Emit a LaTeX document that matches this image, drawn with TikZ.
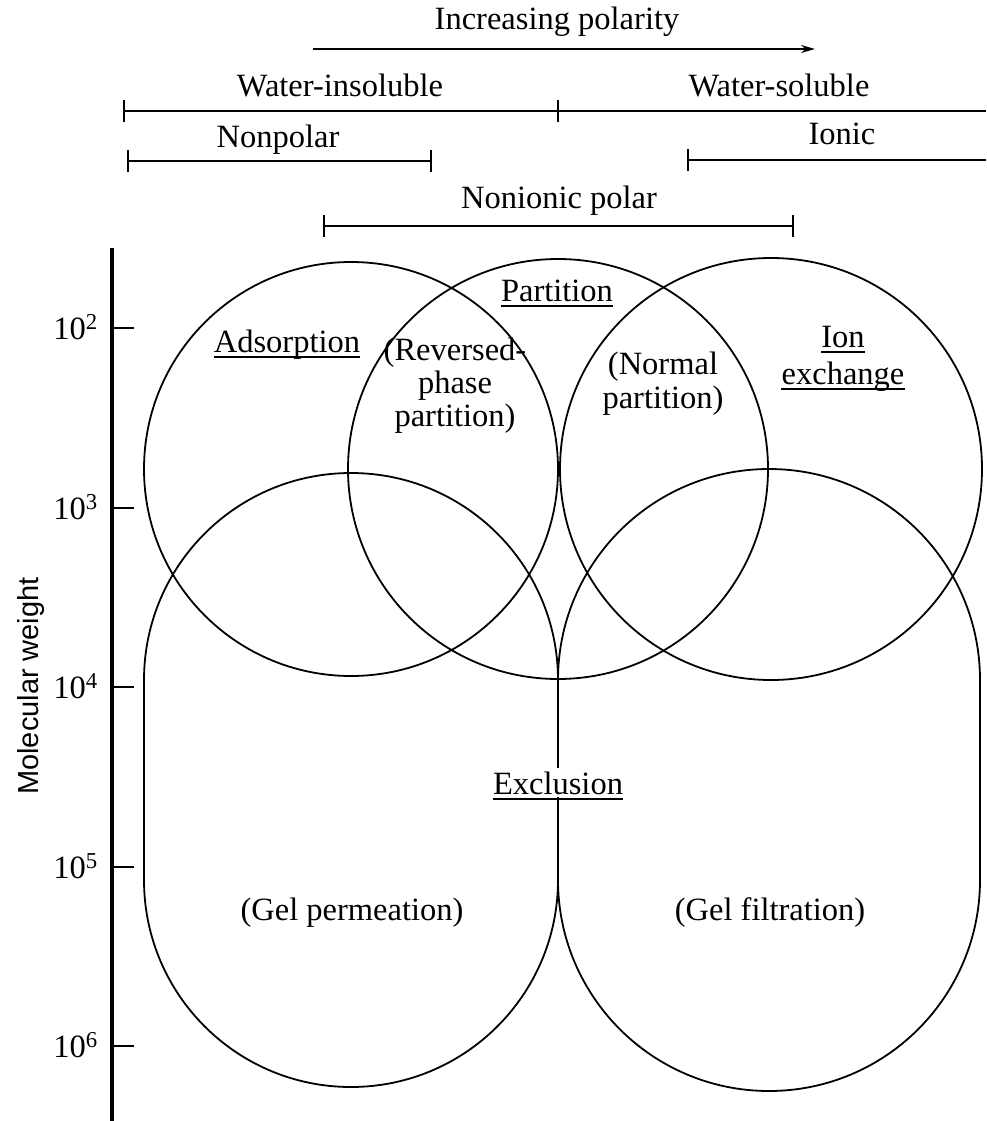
\documentclass[tikz,border=0pt]{standalone}
\usepackage{fontspec}
\setmainfont{Liberation Serif}
\setsansfont{Liberation Sans}
\usetikzlibrary{arrows.meta}
\begin{document}
\begin{tikzpicture}[x=1pt,y=-1pt,
  lab/.style={inner sep=0pt, anchor=base, font=\fontsize{32.5}{38}\selectfont},
  thinline/.style={line width=1.8pt},
  brline/.style={line width=1.9pt},
  ulline/.style={line width=1.5pt},
  disc/.style={circle, draw, thinline, inner sep=0pt},
]
\useasboundingbox (0,0) rectangle (986,1121);

% ---- top annotations ----
\node[lab] (inc) at (557,30) {Increasing polarity};
\coordinate (incA) at (313,49);
\coordinate (incB) at (815,49);
\draw[brline,-{Stealth[length=14pt,width=8pt]}] (incA) -- (incB);

\node[lab] (winsol) at (340,97) {Water-insoluble};
\node[lab] (wsol) at (779,97) {Water-soluble};
\coordinate (wA) at (124,111);
\coordinate (wM) at (558,111);
\coordinate (wB) at (986,111);
\draw[brline] (wA) -- (wB);
\draw[brline] ([yshift=11pt]wA) -- ([yshift=-11pt]wA);
\draw[brline] ([yshift=11pt]wM) -- ([yshift=-11pt]wM);

\node[lab] (nonpolar) at (278,147) {Nonpolar};
\coordinate (npA) at (128,161);
\coordinate (npB) at (431,161);
\draw[brline] (npA) -- (npB);
\draw[brline] ([yshift=11pt]npA) -- ([yshift=-11pt]npA);
\draw[brline] ([yshift=11pt]npB) -- ([yshift=-11pt]npB);

\node[lab] (ionic) at (842,145) {Ionic};
\coordinate (ioA) at (688,160);
\coordinate (ioB) at (986,160);
\draw[brline] (ioA) -- (ioB);
\draw[brline] ([yshift=11pt]ioA) -- ([yshift=-11pt]ioA);

\node[lab] (nonionic) at (559,208) {Nonionic polar};
\coordinate (niA) at (324,226);
\coordinate (niB) at (793,226);
\draw[brline] (niA) -- (niB);
\draw[brline] ([yshift=11pt]niA) -- ([yshift=-11pt]niA);
\draw[brline] ([yshift=11pt]niB) -- ([yshift=-11pt]niB);

% ---- axis ----
\coordinate (axTop) at (112,248);
\coordinate (axBot) at (112,1121);
\draw[line width=3.2pt] (axTop) -- (axBot);
\foreach \e/\yy in {2/328,3/508,4/687,5/867,6/1046}{
  \coordinate (tk\e) at (112,\yy);
  \draw[brline] (tk\e) -- ++(22,0);
  \node[lab, anchor=base east] (tl\e) at (98,\yy+11) {10\textsuperscript{\e}};
}
\node[inner sep=0pt, anchor=base, rotate=90, font=\sffamily\fontsize{29}{34}\selectfont] (mw) at (38,686) {Molecular weight};

% ---- circles ----
\node[disc, minimum size=414pt] (adsc) at (351,469) {};
\node[disc, minimum size=420pt] (partc) at (558,469) {};
\node[disc, minimum size=422pt] (ionc) at (771,469) {};

% ---- exclusion lobes ----
\draw[thinline] (144,680) arc[start angle=180,end angle=0,radius=207pt] -- (558,880)
  arc[start angle=0,end angle=-180,radius=207pt] -- cycle;
\draw[thinline] (558,680) arc[start angle=180,end angle=0,radius=211pt] -- (980,880)
  arc[start angle=0,end angle=-180,radius=211pt] -- cycle;

% ---- labels ----
\node[lab] (ads) at (287,352) {Adsorption};
\draw[ulline] ([yshift=-5pt]ads.base west) -- ([yshift=-5pt]ads.base east);
\node[lab] (part) at (557,301) {Partition};
\draw[ulline] ([yshift=-5pt]part.base west) -- ([yshift=-5pt]part.base east);
\node[lab] (ion) at (843,347) {Ion};
\draw[ulline] ([yshift=-5pt]ion.base west) -- ([yshift=-5pt]ion.base east);
\node[lab] (exch) at (843,384) {exchange};
\draw[ulline] ([yshift=-5pt]exch.base west) -- ([yshift=-5pt]exch.base east);

\node[lab] (rev1) at (455,360) {(Reversed-};
\node[lab] (rev2) at (455,393) {phase};
\node[lab] (rev3) at (455,426) {partition)};
\node[lab] (norm1) at (663,374) {(Normal};
\node[lab] (norm2) at (663,408) {partition)};

\node[lab, fill=white, inner sep=3pt] (excl) at (558,794) {Exclusion};
\draw[ulline] ([yshift=-5pt,xshift=3pt]excl.base west) -- ([yshift=-5pt,xshift=-3pt]excl.base east);

\node[lab] (gelp) at (352,920) {(Gel permeation)};
\node[lab] (gelf) at (770,920) {(Gel filtration)};
\end{tikzpicture}
\end{document}
